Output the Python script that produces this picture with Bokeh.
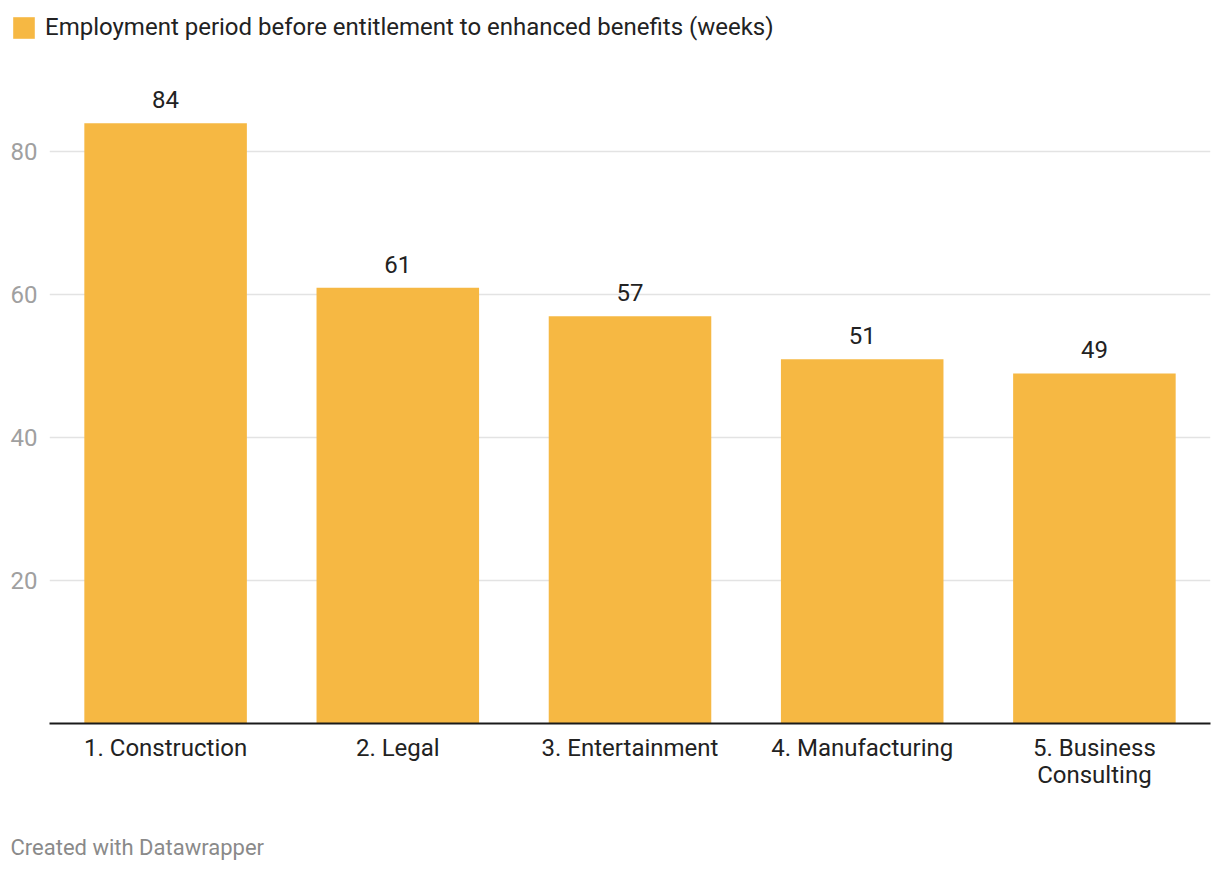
from bokeh.plotting import figure
from bokeh.models import (ColumnDataSource, FixedTicker, Legend, LegendItem,
                          LabelSet, Label, FactorRange, Range1d)
from bokeh.layouts import column
from bokeh.core.properties import value
from bokeh.embed import file_html
from bokeh.resources import INLINE

categories = ["1. Construction", "2. Legal", "3. Entertainment", "4. Manufacturing", "5. Business\nConsulting"]
values = [84, 61, 57, 51, 49]
value_labels = [str(v) for v in values]
y_ticks = [20, 40, 60, 80]
series_name = "Employment period before entitlement to enhanced benefits (weeks)"
footer = "Created with Datawrapper"

BAR = "#f6b843"
FONT = "Roboto"
W = 1212

src = ColumnDataSource(dict(cat=categories, val=values, lab=value_labels))


def blank(height):
    f = figure(width=W, height=height, x_range=Range1d(0, W), y_range=Range1d(0, height),
               output_backend="svg", toolbar_location=None, x_axis_type=None, y_axis_type=None,
               min_border_left=0, min_border_right=0, min_border_top=0, min_border_bottom=0)
    f.frame_align = False
    f.outline_line_color = None
    f.xgrid.grid_line_color = None
    f.ygrid.grid_line_color = None
    return f


# header with legend (swatch uses the series' own bars, collapsed to zero size)
hdr = blank(80)
lr = hdr.vbar(x="val", top=0, bottom=0, width=0, source=src, color=BAR, line_color=None)
legend = Legend(items=[LegendItem(label=series_name, renderers=[lr])],
                location=(10, 39), orientation="horizontal",
                glyph_width=27, glyph_height=27, label_standoff=8,
                label_text_font=FONT, label_text_font_size="24px", label_text_color="#222222",
                padding=0, margin=0, border_line_color=None, background_fill_alpha=0)
hdr.add_layout(legend, "center")

# main chart
p = figure(x_range=FactorRange(*categories, range_padding=0), y_range=Range1d(0, 90),
           width=W, height=720, output_backend="svg", toolbar_location=None,
           min_border_left=49, min_border_right=2, min_border_top=0, min_border_bottom=77)
p.outline_line_color = None

p.vbar(x="cat", top="val", width=0.70, source=src, color=BAR, line_color=None)

p.yaxis.ticker = FixedTicker(ticks=y_ticks)
p.yaxis.axis_line_color = None
p.yaxis.major_tick_line_color = None
p.yaxis.minor_tick_line_color = None
p.yaxis.major_label_text_color = "#a0a0a0"
p.yaxis.major_label_text_font = FONT
p.yaxis.major_label_text_font_size = "24px"
p.yaxis.major_label_standoff = 6

p.xaxis.axis_line_color = "#1a1a1a"
p.xaxis.axis_line_width = 2
p.xaxis.major_tick_line_color = None
p.xaxis.minor_tick_line_color = None
p.xaxis.major_label_text_color = "#222222"
p.xaxis.major_label_text_font = FONT
p.xaxis.major_label_text_font_size = "24px"
p.xaxis.major_label_text_line_height = 0.98
p.xaxis.major_label_standoff = 4

p.xgrid.grid_line_color = None
p.ygrid.grid_line_color = "#e3e3e3"
p.ygrid.grid_line_width = 1.5
p.ygrid.ticker = FixedTicker(ticks=y_ticks)

p.add_layout(LabelSet(x="cat", y="val", text="lab", source=src, y_offset=15,
                      text_align="center", text_baseline="alphabetic",
                      text_font=value(FONT), text_font_size=value("24px"), text_color="#222222"))

# footer
ftr = blank(64)
ftr.add_layout(Label(x=10, y=17, x_units="screen", y_units="screen", text=footer,
                     text_font=FONT, text_font_size="22px", text_color="#8a8a8a",
                     text_baseline="alphabetic"))

layout = column(hdr, p, ftr, spacing=0)
open("out.html", "w").write(file_html(layout, INLINE))
